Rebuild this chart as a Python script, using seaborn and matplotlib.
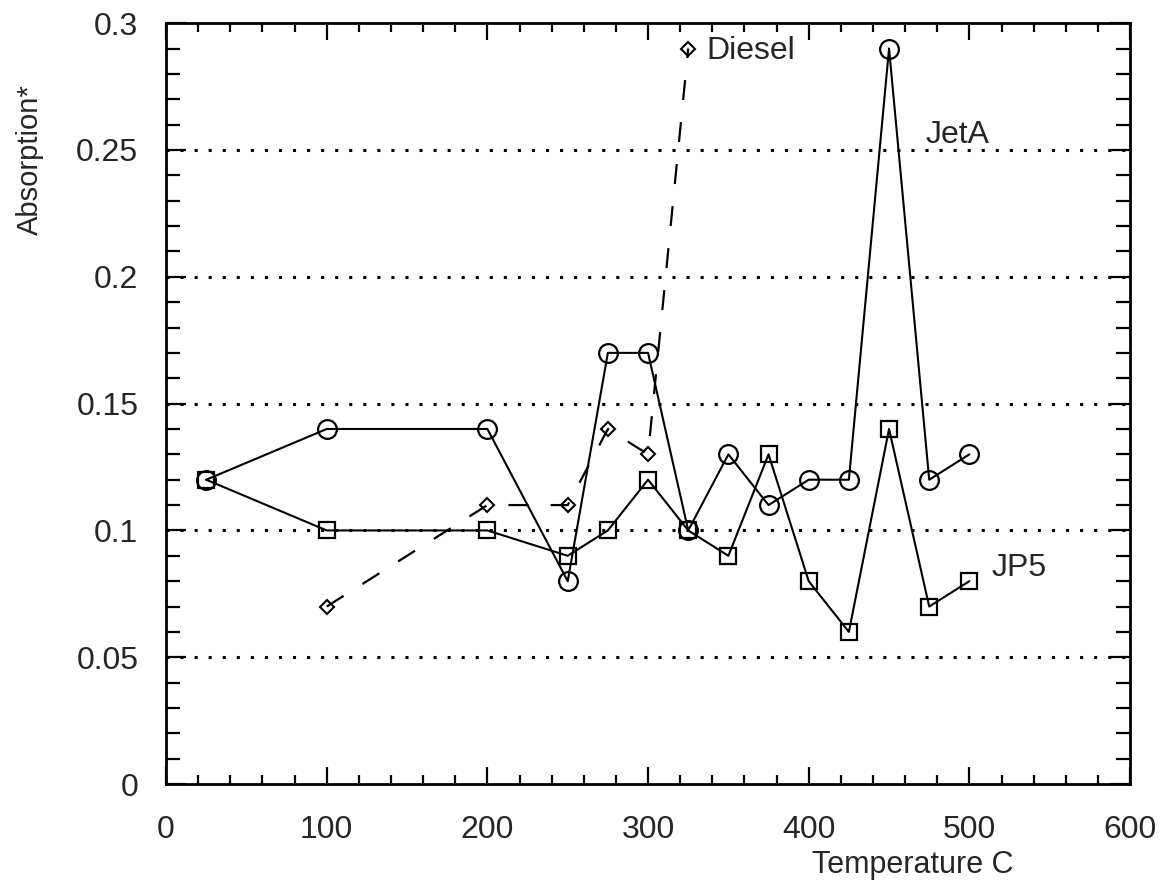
import matplotlib
matplotlib.use("Agg")
import matplotlib.pyplot as plt
import seaborn as sns
import pandas as pd
from matplotlib.ticker import MultipleLocator
from matplotlib import font_manager

# ---- data ----
temperature = [25, 100, 200, 250, 275, 300, 325, 350, 375, 400, 425, 450, 475, 500]
jeta = [0.12, 0.14, 0.14, 0.08, 0.17, 0.17, 0.10, 0.13, 0.11, 0.12, 0.12, 0.29, 0.12, 0.13]
jp5 = [0.12, 0.10, 0.10, 0.09, 0.10, 0.12, 0.10, 0.09, 0.13, 0.08, 0.06, 0.14, 0.07, 0.08]
diesel_temp = [100, 200, 250, 275, 300, 325]
diesel = [0.07, 0.11, 0.11, 0.14, 0.13, 0.29]
grid_levels = [0.05, 0.10, 0.15, 0.20, 0.25]
x_ticks = [0, 100, 200, 300, 400, 500, 600]
x_tick_labels = ['0', '100', '200', '300', '400', '500', '600']
y_ticks = [0, 0.05, 0.1, 0.15, 0.2, 0.25, 0.3]
y_tick_labels = ['0', '0.05', '0.1', '0.15', '0.2', '0.25', '0.3']

sns.set_style("ticks")
plt.rcParams['font.family'] = ['Liberation Sans', 'DejaVu Sans']

installed = {f.name for f in font_manager.fontManager.ttflist}
narrow = 'Liberation Sans Narrow' if 'Liberation Sans Narrow' in installed else 'Liberation Sans'

fig = plt.figure(figsize=(11.62, 8.90), dpi=100)
ax = fig.add_axes([0.1429, 0.119, 0.8296, 0.855])

df_j = pd.DataFrame({"T": temperature, "A": jeta})
df_p = pd.DataFrame({"T": temperature, "A": jp5})
df_d = pd.DataFrame({"T": diesel_temp, "A": diesel})

for g in grid_levels:
    ax.axhline(g, color='black', lw=2.2, ls=(0, (1.0, 3.6)), zorder=1)

common = dict(color='black', linewidth=1.5, markerfacecolor='none',
              markeredgecolor='black', markeredgewidth=1.6, ax=ax, zorder=3)
sns.lineplot(data=df_j, x="T", y="A", marker='o', markersize=13.5, **common)
sns.lineplot(data=df_p, x="T", y="A", marker='s', markersize=12, **common)
sns.lineplot(data=df_d, x="T", y="A", marker='D', markersize=7.5,
             color='black', linewidth=1.6, markerfacecolor='none',
             markeredgecolor='black', markeredgewidth=1.5, ax=ax, zorder=3,
             linestyle=(0, (9, 10)))

ax.set_xlim(0, 600)
ax.set_ylim(0, 0.3)
ax.set_xticks(x_ticks)
ax.set_xticklabels(x_tick_labels)
ax.set_yticks(y_ticks)
ax.set_yticklabels(y_tick_labels)
ax.xaxis.set_minor_locator(MultipleLocator(20))
ax.yaxis.set_minor_locator(MultipleLocator(0.01))

ax.tick_params(which='both', direction='in', top=True, right=True, width=1.6, color='black')
ax.tick_params(axis='x', which='major', length=12.5, labelsize=23, pad=22)
ax.tick_params(axis='x', which='minor', length=6.5)
ax.tick_params(axis='y', which='major', length=14.5, labelsize=23, pad=20)
ax.tick_params(axis='y', which='minor', length=10)
for lab in ax.get_xticklabels():
    lab.set_family([narrow, 'DejaVu Sans'])
for s in ax.spines.values():
    s.set_linewidth(2.0)
    s.set_color('black')

ax.set_xlabel("Temperature C", fontsize=22, family=[narrow, 'DejaVu Sans'])
ax.xaxis.set_label_coords(0.775, -0.087)
ax.set_ylabel("Absorption*", fontsize=21, family=[narrow, 'DejaVu Sans'])
ax.yaxis.set_label_coords(-0.127, 0.82)

ax.text(336, 0.289, "Diesel", fontsize=23, va='center', ha='left')
ax.text(473, 0.256, "JetA", fontsize=23, va='center', ha='left')
ax.text(514, 0.085, "JP5", fontsize=23, va='center', ha='left')

fig.savefig("out.png", dpi=100)
